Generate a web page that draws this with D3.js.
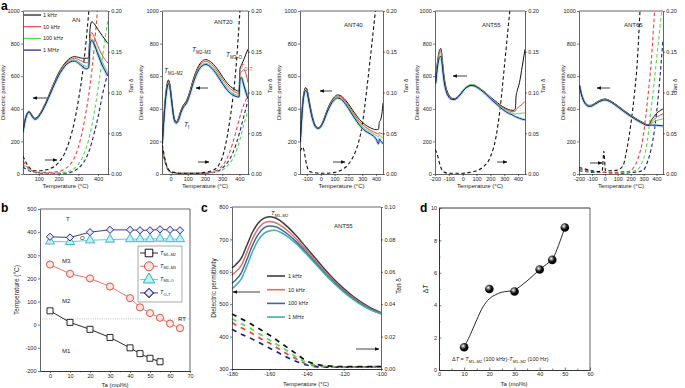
<!DOCTYPE html>
<html>
<head>
<meta charset="utf-8">
<script src="https://cdn.jsdelivr.net/npm/d3@7"></script>
<style>
body { margin: 0; background: #fff; }
svg { font-family: "Liberation Sans", Arial, sans-serif; }
</style>
</head>
<body>
<script>
// ---------- panel a : dielectric permittivity / tan delta ----------
const freqLabels = ['1 kHz', '10 kHz', '100 kHz', '1 MHz'];

const anEpsT = [20,30,40,50,60,70,80,90,100,120,140,160,180,200,220,240,260,280,300,320,340,352,360,368,380,400,420,450];
const anEps1k = [260,330,370,385,372,352,342,345,360,400,452,510,568,620,660,692,712,720,716,710,710,712,900,935,922,885,850,800];
const anEps10k = [258,328,368,382,370,350,340,343,357,397,448,506,563,614,654,685,703,710,703,690,682,688,845,868,840,780,730,680];
const anEps100k = [256,326,366,380,368,348,338,341,355,394,445,502,558,608,648,678,695,700,690,672,660,665,810,830,805,745,690,620];
const anEps1M = [254,324,364,378,366,346,336,339,353,392,442,498,553,603,642,672,688,693,680,660,645,652,800,820,795,730,670,600];
const anTanT = [20,40,60,80,100,150,200,230,260,280,300,320,340,360,380,400,420,450];
const anTan1k = [0.022,0.012,0.006,0.004,0.004,0.006,0.014,0.025,0.045,0.064,0.09,0.122,0.165,0.22,0.28,0.34,0.4,0.5];
const anTan10k = [0.016,0.009,0.005,0.003,0.002,0.002,0.003,0.006,0.012,0.02,0.033,0.052,0.078,0.11,0.155,0.21,0.27,0.36];
const anTan100k = [0.012,0.007,0.004,0.002,0.001,0.001,0.001,0.002,0.004,0.007,0.012,0.02,0.032,0.05,0.075,0.105,0.14,0.19];
const anTan1M = [0.009,0.005,0.003,0.002,0.001,0.001,0.001,0.001,0.002,0.004,0.007,0.012,0.02,0.032,0.05,0.07,0.095,0.125];

const a20EpsT = [-48,-40,-30,-20,-12,-5,5,15,25,35,45,60,75,90,110,130,150,170,190,205,220,240,260,280,300,320,340,360,380,398,404,412,425,438,450];
const a20Eps1k = [190,330,470,555,577,555,470,380,330,322,340,390,425,445,500,575,635,675,698,702,697,682,660,632,600,570,545,527,514,508,650,668,700,735,765];
const a20Eps10k = [188,325,462,545,568,548,465,376,326,318,336,385,420,440,494,568,626,665,687,691,686,670,646,617,585,555,530,512,500,495,615,625,640,615,560];
const a20Eps100k = [186,320,455,537,560,540,460,372,322,315,332,380,415,435,488,560,617,655,676,680,675,658,633,603,570,540,515,498,487,482,590,595,560,515,480];
const a20Eps1M = [184,315,450,530,555,535,455,368,318,312,328,376,411,430,482,553,610,648,668,672,666,648,622,591,557,527,502,486,476,472,585,590,545,500,460];
const a20TanT = [-48,-40,-30,-20,-10,0,20,50,100,150,200,250,280,300,320,340,360,380,400,420,450];
const a20Tan1k = [0.036,0.026,0.016,0.009,0.005,0.003,0.002,0.001,0.001,0.001,0.002,0.005,0.011,0.02,0.036,0.06,0.09,0.13,0.19,0.26,0.35];
const a20Tan10k = [0.034,0.024,0.015,0.008,0.004,0.003,0.002,0.001,0.001,0.001,0.001,0.003,0.006,0.01,0.016,0.025,0.037,0.052,0.068,0.082,0.096];
const a20Tan100k = [0.032,0.023,0.014,0.008,0.004,0.002,0.001,0.001,0.001,0.001,0.001,0.002,0.003,0.005,0.008,0.012,0.018,0.027,0.04,0.056,0.078];
const a20Tan1M = [0.03,0.021,0.013,0.007,0.004,0.002,0.001,0.001,0.001,0.001,0.001,0.002,0.004,0.007,0.011,0.017,0.025,0.036,0.05,0.066,0.09];

const a40EpsT = [-148,-140,-130,-120,-110,-100,-90,-75,-60,-45,-30,-15,0,20,40,60,80,100,120,140,160,180,200,240,280,320,360,400,418,424,432,442,450];
const a40Eps1k = [200,320,440,505,530,522,480,410,350,308,288,285,295,330,378,420,452,474,485,482,470,452,430,380,335,303,283,272,275,320,330,370,435];
const a40Eps10k = [198,315,435,500,524,516,474,405,346,305,286,283,293,327,374,415,447,468,478,475,462,443,420,368,322,290,268,252,245,255,250,248,245];
const a40Eps100k = [196,310,430,495,518,510,468,400,342,302,284,281,291,324,370,410,441,462,472,468,455,435,411,358,311,278,258,238,228,240,232,226,220];
const a40Eps1M = [194,305,425,490,512,504,462,395,338,300,282,279,289,321,366,405,436,456,466,462,448,427,402,348,300,265,245,215,185,215,205,195,185];
const a40TanT = [-148,-140,-130,-120,-110,-100,-90,-80,-60,0,50,100,150,200,250,272,300,330,360,395,420,450];
const a40Tan1k = [0.028,0.031,0.033,0.028,0.018,0.01,0.005,0.003,0.002,0.001,0.001,0.002,0.005,0.012,0.027,0.038,0.06,0.1,0.145,0.2,0.24,0.29];

const a55EpsT = [-195,-188,-180,-172,-165,-158,-152,-145,-135,-120,-100,-80,-60,-40,-20,0,20,40,60,80,100,130,170,210,250,290,330,365,380,386,392,410,430,450];
const a55Eps1k = [570,640,700,745,765,770,745,680,600,530,485,466,462,470,488,510,528,540,546,545,538,522,495,465,438,413,396,390,398,480,505,560,660,765];
const a55Eps10k = [565,630,690,735,752,755,730,668,590,522,480,462,459,467,485,507,525,537,543,542,535,519,492,461,433,407,389,382,385,395,402,415,428,445];
const a55Eps100k = [560,622,680,722,740,742,718,658,582,516,476,460,458,468,487,510,530,543,549,548,540,522,493,460,430,402,382,372,368,370,372,372,373,375];
const a55Eps1M = [555,612,668,705,720,722,700,645,572,510,472,458,457,466,484,506,525,537,543,541,533,516,487,454,424,395,373,360,352,350,348,342,336,332];
const a55TanT = [-198,-190,-180,-170,-160,-150,-130,-100,-50,0,50,100,150,200,240,270,300,320,340,360,400,450];
const a55Tan1k = [0.03,0.027,0.022,0.015,0.009,0.005,0.002,0.001,0.001,0.001,0.002,0.004,0.009,0.021,0.045,0.08,0.13,0.165,0.2,0.24,0.32,0.42];

const a65EpsT = [-195,-185,-170,-155,-140,-125,-110,-95,-80,-60,-40,-20,0,20,50,100,150,200,250,300,330,345,360,380,400,425,450];
const a65Eps1k = [545,505,465,440,427,421,421,425,432,442,451,457,460,457,445,418,388,360,335,313,302,305,330,352,372,388,400];
const a65Eps10k = [543,503,463,438,425,419,419,423,430,440,449,455,458,455,443,416,386,358,333,311,300,302,318,335,348,360,370];
const a65Eps100k = [541,501,461,436,423,417,417,421,428,438,447,453,456,453,441,414,384,356,331,309,299,300,310,320,328,334,338];
const a65Eps1M = [539,499,459,434,421,415,415,419,426,436,445,451,454,451,439,412,382,354,329,307,298,299,300,300,299,297,295];
const a65TanT = [-200,-150,-100,-50,-20,-8,5,50,100,140,170,200,230,250,272,285,300,330,360,385,410,440,450];
const a65Tan1k = [0.008,0.006,0.004,0.003,0.004,0.028,0.004,0.004,0.005,0.01,0.03,0.06,0.1,0.135,0.2,0.24,0.28,0.36,0.44,0.5,0.56,0.62,0.64];
const a65Tan10k = [0.006,0.005,0.003,0.002,0.002,0.002,0.002,0.002,0.002,0.003,0.003,0.004,0.01,0.016,0.027,0.035,0.05,0.09,0.14,0.2,0.26,0.34,0.37];
const a65Tan100k = [0.005,0.004,0.003,0.002,0.002,0.002,0.002,0.001,0.001,0.002,0.002,0.003,0.004,0.005,0.009,0.013,0.019,0.042,0.082,0.118,0.155,0.2,0.215];
const a65Tan1M = [0.004,0.003,0.002,0.002,0.002,0.002,0.002,0.001,0.001,0.001,0.001,0.002,0.002,0.003,0.003,0.004,0.005,0.015,0.032,0.055,0.09,0.145,0.165];

// ---------- panel b : phase diagram ----------
const taM1M2 = [0,10,20,30,40,45,50,55];
const tM1M2 = [60,10,-20,-55,-100,-125,-145,-160];
const taAll = [0,10,20,30,40,45,50,55,60,65];
const tM2M3 = [260,220,200,165,115,75,50,30,5,-15];
const tM3O = [360,358,365,368,370,370,370,372,370,370];
const tOT = [380,377,400,410,410,408,408,412,410,408];
const roomT = 25;

// ---------- panel c : ANT55 near T_M1-M2 ----------
const cEpsT = [-180,-178,-175,-172,-169,-166,-163,-160,-157,-154,-150,-145,-140,-135,-130,-125,-120,-115,-110,-105,-100];
const cEps1k = [612,622,642,682,722,750,765,770,767,757,738,708,674,640,606,575,548,524,504,487,474];
const cEps10k = [590,600,620,660,702,732,750,755,752,743,726,698,666,633,600,570,543,520,500,484,472];
const cEps100k = [565,575,597,638,682,715,735,741,740,732,716,690,659,627,595,566,540,517,498,482,471];
const cEps1M = [548,558,578,618,662,697,718,726,728,722,708,684,654,623,592,563,537,515,496,481,470];
const cTanT = [-180,-175,-170,-165,-160,-155,-150,-145,-140,-135,-130,-120,-110,-100];
const cTan1k = [0.034,0.031,0.028,0.0245,0.021,0.017,0.013,0.009,0.005,0.003,0.002,0.0015,0.0015,0.0015];
const cTan100k = [0.031,0.028,0.025,0.0215,0.018,0.0145,0.011,0.007,0.004,0.0025,0.0018,0.0014,0.0014,0.0014];
const cTan10k = [0.0285,0.0255,0.0225,0.019,0.016,0.0125,0.009,0.006,0.003,0.002,0.0015,0.0012,0.0012,0.0012];
const cTan1M = [0.0245,0.0215,0.019,0.016,0.013,0.01,0.007,0.0045,0.0025,0.0015,0.0012,0.0012,0.0013,0.0015];

// ---------- panel d : delta T ----------
const dTa = [10,20,30,40,45,50];
const dDeltaT = [1.4,5.0,4.85,6.2,6.8,8.8];
const fitTa = [10,12.5,15,17.5,20,22.5,25,30,35,40,45,47.5,50];
const fitDT = [1.4,2.2,3.1,3.9,4.4,4.65,4.8,4.95,5.5,6.2,6.85,7.7,8.8];

// ======================================================
const ink = '#222';
const colA = ['#111111', '#e5473f', '#5ad65a', '#1b1f82'];
const colC = ['#3d3d3d', '#d9716c', '#4463a3', '#3db3a0'];
const fsTick = 5.5, fsTitle = 6.5;

const svg = d3.select('body').append('svg')
    .attr('width', 685)
    .attr('height', 388);

const defs = svg.append('defs');
defs.append('marker').attr('id', 'arr')
    .attr('viewBox', '0 0 10 10').attr('refX', 9).attr('refY', 5)
    .attr('markerUnits', 'userSpaceOnUse')
    .attr('markerWidth', 4.5).attr('markerHeight', 4.5)
    .attr('orient', 'auto')
    .append('path').attr('d', 'M0,1L10,5L0,9Z').attr('fill', '#111');
const ball = defs.append('radialGradient').attr('id', 'ball')
    .attr('cx', '38%').attr('cy', '35%').attr('r', '65%');
ball.append('stop').attr('offset', '0%').attr('stop-color', '#ffffff');
ball.append('stop').attr('offset', '22%').attr('stop-color', '#9a9a9a');
ball.append('stop').attr('offset', '55%').attr('stop-color', '#151515');
ball.append('stop').attr('offset', '100%').attr('stop-color', '#000');

function styleAxis(a, fs) {
    a.select('.domain').attr('stroke', ink).attr('stroke-width', 0.7);
    a.selectAll('.tick line').attr('stroke', ink).attr('stroke-width', 0.6);
    a.selectAll('.tick text').attr('font-size', fs || fsTick).attr('fill', ink)
        .attr('font-family', '"Liberation Sans", Arial, sans-serif');
    return a;
}
function addAxis(g, gen, tx, ty, fs) {
    return styleAxis(g.append('g').attr('transform', `translate(${tx},${ty})`).call(gen), fs);
}
function txt(g, x, y, s, opt) {
    opt = opt || {};
    return g.append('text').attr('x', x).attr('y', y).text(s)
        .attr('font-size', opt.fs || fsTitle).attr('fill', opt.fill || ink)
        .attr('text-anchor', opt.anchor || 'start')
        .attr('font-weight', opt.bold ? 'bold' : null);
}
function vtxt(g, x, y, s, fs) {
    return g.append('text').attr('transform', `translate(${x},${y}) rotate(-90)`)
        .attr('text-anchor', 'middle').attr('font-size', fs || fsTitle).attr('fill', ink).text(s);
}
// T with subscript
function tsub(g, x, y, sub, fs, fill) {
    const t = g.append('text').attr('x', x).attr('y', y).attr('font-size', fs).attr('fill', fill || ink);
    t.append('tspan').attr('font-style', 'italic').text('T');
    t.append('tspan').attr('font-size', fs * 0.68).attr('dy', fs * 0.25).text(sub);
    return t;
}
function arrow(g, x1, y1, x2, y2) {
    g.append('line').attr('x1', x1).attr('y1', y1).attr('x2', x2).attr('y2', y2)
        .attr('stroke', '#111').attr('stroke-width', 0.8).attr('marker-end', 'url(#arr)');
}
function frameLine(g, x1, y1, x2, y2, w) {
    g.append('line').attr('x1', x1).attr('y1', y1).attr('x2', x2).attr('y2', y2)
        .attr('stroke', ink).attr('stroke-width', w || 0.7);
}

// ---------------- panel a ----------------
const aTop = 11, aBottom = 174;
const yEa = d3.scaleLinear().domain([0, 1000]).range([aBottom, aTop]);
const yTa = d3.scaleLinear().domain([0, 0.2]).range([aBottom, aTop]);

const aPanels = [
    { name: 'AN', x0: 23, x1: 108, dom: [20, 450], ticks: [100, 200, 300, 400], lt: 5, rt: 133,
      eT: anEpsT, eps: [anEps1k, anEps10k, anEps100k, anEps1M],
      tT: anTanT, tan: [anTan1k, anTan10k, anTan100k, anTan1M] },
    { name: 'ANT20', x0: 162, x1: 248, dom: [-50, 450], ticks: [0, 100, 200, 300, 400], lt: 143, rt: 272,
      eT: a20EpsT, eps: [a20Eps1k, a20Eps10k, a20Eps100k, a20Eps1M],
      tT: a20TanT, tan: [a20Tan1k, a20Tan10k, a20Tan100k, a20Tan1M] },
    { name: 'ANT40', x0: 300, x1: 383, dom: [-150, 450], ticks: [-100, 0, 100, 200, 300, 400], lt: 281, rt: 408,
      eT: a40EpsT, eps: [a40Eps1k, a40Eps10k, a40Eps100k, a40Eps1M],
      tT: a40TanT, tan: [a40Tan1k] },
    { name: 'ANT55', x0: 435, x1: 525, dom: [-200, 450], ticks: [-200, -100, 0, 100, 200, 300, 400], lt: 419, rt: 545,
      eT: a55EpsT, eps: [a55Eps1k, a55Eps10k, a55Eps100k, a55Eps1M],
      tT: a55TanT, tan: [a55Tan1k] },
    { name: 'ANT65', x0: 579, x1: 663, dom: [-200, 450], ticks: [-200, -100, 0, 100, 200, 300, 400], lt: 565, rt: 677,
      eT: a65EpsT, eps: [a65Eps1k, a65Eps10k, a65Eps100k, a65Eps1M],
      tT: a65TanT, tan: [a65Tan1k, a65Tan10k, a65Tan100k, a65Tan1M] }
];

aPanels.forEach((p, i) => {
    const g = svg.append('g');
    const x = d3.scaleLinear().domain(p.dom).range([p.x0, p.x1]);
    const cid = 'clipA' + i;
    defs.append('clipPath').attr('id', cid).append('rect')
        .attr('x', p.x0).attr('y', aTop).attr('width', p.x1 - p.x0).attr('height', aBottom - aTop);
    const plot = g.append('g').attr('clip-path', `url(#${cid})`);

    // tan delta, dashed
    for (let k = p.tan.length - 1; k >= 0; k--) {
        const line = d3.line().x((d, j) => x(p.tT[j])).y(d => yTa(d)).curve(d3.curveMonotoneX);
        plot.append('path').datum(p.tan[k]).attr('d', line)
            .attr('fill', 'none').attr('stroke', colA[k]).attr('stroke-width', 1.1)
            .attr('stroke-dasharray', '3.5,2.5');
    }
    // permittivity, solid
    const eLine = d3.line().x((d, j) => x(p.eT[j])).y(d => yEa(d)).curve(d3.curveMonotoneX);
    plot.append('path').datum(p.eps[3]).attr('d', eLine)
        .attr('fill', 'none').attr('stroke', '#9fd6f2').attr('stroke-width', 3).attr('opacity', 0.7);
    p.eps.forEach((s, k) => {
        plot.append('path').datum(s).attr('d', eLine)
            .attr('fill', 'none').attr('stroke', colA[k]).attr('stroke-width', 1);
    });

    addAxis(g, d3.axisBottom(x).tickValues(p.ticks).tickSize(2).tickSizeOuter(0).tickPadding(1.2).tickFormat(d => String(d)), 0, aBottom);
    addAxis(g, d3.axisLeft(yEa).tickValues([0, 200, 400, 600, 800, 1000]).tickSize(2).tickSizeOuter(0).tickPadding(1.2).tickFormat(d => String(d)), p.x0, 0);
    addAxis(g, d3.axisRight(yTa).tickValues([0, 0.05, 0.1, 0.15, 0.2]).tickSize(2).tickSizeOuter(0).tickPadding(1.2).tickFormat(d3.format('.2f')), p.x1, 0);
    frameLine(g, p.x0, aTop, p.x1, aTop);

    txt(g, (p.x0 + p.x1) / 2, 188, 'Temperature (\u00B0C)', { anchor: 'middle', fs: 6 });
    vtxt(g, p.lt, (aTop + aBottom) / 2, 'Dielectric permittivity', 6);
    vtxt(g, p.rt, 86, 'Tan \u03B4', 6);
});

// panel a annotations
{
    const g = svg.append('g');
    txt(g, 1, 10, 'a', { fs: 12, bold: true, fill: '#000' });
    // legend in AN
    freqLabels.forEach((f, k) => {
        const yy = 15 + k * 11.7;
        g.append('line').attr('x1', 24).attr('x2', 41).attr('y1', yy).attr('y2', yy)
            .attr('stroke', colA[k]).attr('stroke-width', 1.2);
        txt(g, 43, yy + 2, f, { fs: 5.5 });
    });
    txt(g, 72, 22, 'AN', { fs: 6 });
    txt(g, 214, 24, 'ANT20', { fs: 6 });
    txt(g, 344, 27, 'ANT40', { fs: 6 });
    txt(g, 482, 27, 'ANT55', { fs: 6 });
    txt(g, 624, 27, 'ANT65', { fs: 6 });
    tsub(g, 164, 73, 'M1\u2013M2', 6.5);
    tsub(g, 192, 52, 'M2\u2013M3', 6.5);
    tsub(g, 226, 57, 'M3\u2013O', 6.5);
    tsub(g, 240, 69, 'O\u2013T', 6.5, '#c84040');
    tsub(g, 184, 127, 'f', 6.5);
    arrow(g, 47, 98, 33, 98);  arrow(g, 45, 160, 57, 160);
    arrow(g, 208, 88, 196, 88); arrow(g, 198, 162, 209, 162);
    arrow(g, 332, 91, 320, 91); arrow(g, 333, 162, 345, 162);
    arrow(g, 467, 76, 453, 76); arrow(g, 497, 162, 507, 162);
    arrow(g, 610, 88, 597, 88); arrow(g, 590, 163, 602, 163);
}

// ---------------- panel b ----------------
{
    const g = svg.append('g');
    const x = d3.scaleLinear().domain([-5, 70]).range([40, 190]);
    const y = d3.scaleLinear().domain([-200, 500]).range([371, 209]);

    g.append('line').attr('x1', x(-5)).attr('x2', x(70)).attr('y1', y(roomT)).attr('y2', y(roomT))
        .attr('stroke', '#999').attr('stroke-width', 0.6).attr('stroke-dasharray', '1,1.2');

    const series = [
        { ta: taM1M2, v: tM1M2, line: '#111', stroke: '#111', fill: '#fff', sym: d3.symbolSquare, size: 36, rot: 0, lab: 'M1\u2013M2' },
        { ta: taAll, v: tM2M3, line: '#e0675e', stroke: '#d9443c', fill: '#fbe3df', sym: d3.symbolCircle, size: 40, rot: 0, lab: 'M2\u2013M3' },
        { ta: taAll, v: tM3O, line: '#4cc6cf', stroke: '#2fb2bf', fill: '#c4f0f3', sym: d3.symbolTriangle, size: 36, rot: 0, lab: 'M3\u2013O' },
        { ta: taAll, v: tOT, line: '#23297e', stroke: '#1d2477', fill: '#e6e8f8', sym: d3.symbolSquare, size: 26, rot: 45, lab: 'O\u2013T' }
    ];
    series.forEach(s => {
        const line = d3.line().x((d, j) => x(s.ta[j])).y(d => y(d));
        g.append('path').datum(s.v).attr('d', line).attr('fill', 'none')
            .attr('stroke', s.line).attr('stroke-width', 0.9);
        g.selectAll(null).data(s.v).enter().append('path')
            .attr('d', d3.symbol().type(s.sym).size(s.size))
            .attr('transform', (d, j) => `translate(${x(s.ta[j])},${y(d)}) rotate(${s.rot})`)
            .attr('fill', s.fill).attr('stroke', s.stroke).attr('stroke-width', 0.9);
    });

    addAxis(g, d3.axisBottom(x).tickValues(d3.range(0, 71, 10)).tickSize(2).tickSizeOuter(0).tickPadding(1.5), 0, 371);
    addAxis(g, d3.axisBottom(x).tickValues(d3.range(5, 70, 10)).tickSize(1.2).tickSizeOuter(0).tickFormat(''), 0, 371);
    addAxis(g, d3.axisLeft(y).tickValues(d3.range(-200, 501, 100)).tickSize(2).tickSizeOuter(0).tickPadding(1.5).tickFormat(d => String(d)), 40, 0);
    frameLine(g, 40, 209, 190, 209);
    frameLine(g, 190, 209, 190, 371);

    // legend
    g.append('rect').attr('x', 138).attr('y', 246).attr('width', 44).attr('height', 56)
        .attr('fill', '#fff').attr('stroke', '#555').attr('stroke-width', 0.5);
    series.forEach((s, k) => {
        const yy = 253 + k * 13.3;
        g.append('line').attr('x1', 140).attr('x2', 158).attr('y1', yy).attr('y2', yy)
            .attr('stroke', s.line).attr('stroke-width', 0.9);
        g.append('path').attr('d', d3.symbol().type(s.sym).size(s.size * 1.6))
            .attr('transform', `translate(149,${yy}) rotate(${s.rot})`)
            .attr('fill', s.fill).attr('stroke', s.stroke).attr('stroke-width', 1);
        tsub(g, 160, yy + 1.5, s.lab, 5.5);
    });

    txt(g, 66, 221, 'T', { fs: 6 });
    txt(g, 62, 263, 'M3', { fs: 6 });
    txt(g, 62, 303, 'M2', { fs: 6 });
    txt(g, 62, 353, 'M1', { fs: 6 });
    txt(g, 178, 321, 'RT', { fs: 6 });
    txt(g, 80, 240, 'O', { fs: 6 });
    txt(g, 115, 387, 'Ta (mol%)', { anchor: 'middle', fs: 6 });
    vtxt(g, 19, 290, 'Temperature (\u00B0C)', 6.5);
    txt(g, 1, 212, 'b', { fs: 12, bold: true, fill: '#000' });
}

// ---------------- panel c ----------------
{
    const g = svg.append('g');
    const x = d3.scaleLinear().domain([-180, -100]).range([232, 381]);
    const yE = d3.scaleLinear().domain([300, 800]).range([369, 207]);
    const yT = d3.scaleLinear().domain([0, 0.1]).range([369, 207]);

    const tanSeries = [cTan1M, cTan10k, cTan100k, cTan1k];
    const tanCols = [colA[3], colA[1], colA[2], colA[0]];
    tanSeries.forEach((s, k) => {
        const line = d3.line().x((d, j) => x(cTanT[j])).y(d => yT(d)).curve(d3.curveMonotoneX);
        g.append('path').datum(s).attr('d', line).attr('fill', 'none')
            .attr('stroke', tanCols[k]).attr('stroke-width', 1.7).attr('stroke-dasharray', '5,5');
    });
    const epsSeries = [cEps1k, cEps10k, cEps100k, cEps1M];
    const eLine = d3.line().x((d, j) => x(cEpsT[j])).y(d => yE(d)).curve(d3.curveMonotoneX);
    epsSeries.forEach((s, k) => {
        g.append('path').datum(s).attr('d', eLine).attr('fill', 'none')
            .attr('stroke', colC[k]).attr('stroke-width', 1.5);
    });

    addAxis(g, d3.axisBottom(x).tickValues(d3.range(-180, -99, 20)).tickSize(2).tickSizeOuter(0).tickPadding(1.5).tickFormat(d => String(d)), 0, 369);
    addAxis(g, d3.axisBottom(x).tickValues(d3.range(-170, -100, 20)).tickSize(1.2).tickSizeOuter(0).tickFormat(''), 0, 369);
    addAxis(g, d3.axisLeft(yE).tickValues(d3.range(300, 801, 100)).tickSize(2).tickSizeOuter(0).tickPadding(1.5), 232, 0);
    addAxis(g, d3.axisRight(yT).tickValues(d3.range(0, 0.101, 0.02)).tickSize(2).tickSizeOuter(0).tickPadding(1.5).tickFormat(d3.format('.2f')), 381, 0);
    frameLine(g, 232, 207, 381, 207);

    freqLabels.forEach((f, k) => {
        const yy = 276 + k * 13.7;
        g.append('line').attr('x1', 267).attr('x2', 285).attr('y1', yy).attr('y2', yy)
            .attr('stroke', colC[k]).attr('stroke-width', 1.6);
        txt(g, 288, yy + 2, f, { fs: 5.5 });
    });
    tsub(g, 271, 215, 'M1\u2013M2', 6);
    txt(g, 334, 228, 'ANT55', { fs: 6 });
    arrow(g, 260, 292, 233, 292);
    arrow(g, 356, 349, 379, 349);
    txt(g, 306, 386, 'Temperature (\u00B0C)', { anchor: 'middle', fs: 6 });
    vtxt(g, 216, 288, 'Dielectric permittivity', 6.5);
    vtxt(g, 401, 286, 'Tan \u03B4', 6.5);
    txt(g, 201, 212, 'c', { fs: 12, bold: true, fill: '#000' });
}

// ---------------- panel d ----------------
{
    const g = svg.append('g');
    const x = d3.scaleLinear().domain([0, 60]).range([439, 590]);
    const y = d3.scaleLinear().domain([0, 10]).range([370, 208]);

    addAxis(g, d3.axisBottom(x).tickValues(d3.range(0, 61, 10)).tickSize(-2.5).tickSizeOuter(0).tickPadding(2), 0, 370);
    addAxis(g, d3.axisBottom(x).tickValues(d3.range(5, 60, 10)).tickSize(-1.5).tickSizeOuter(0).tickFormat(''), 0, 370);
    addAxis(g, d3.axisLeft(y).tickValues(d3.range(0, 11, 2)).tickSize(-2.5).tickSizeOuter(0).tickPadding(2), 439, 0);
    addAxis(g, d3.axisLeft(y).tickValues(d3.range(1, 10, 2)).tickSize(-1.5).tickSizeOuter(0).tickFormat(''), 439, 0);
    frameLine(g, 439, 208, 590, 208, 0.9);
    frameLine(g, 590, 208, 590, 370, 0.7);

    const fit = d3.line().x((d, j) => x(fitTa[j])).y(d => y(d)).curve(d3.curveCatmullRom);
    g.append('path').datum(fitDT).attr('d', fit).attr('fill', 'none')
        .attr('stroke', '#111').attr('stroke-width', 0.9);
    g.selectAll(null).data(dDeltaT).enter().append('circle')
        .attr('cx', (d, j) => x(dTa[j])).attr('cy', d => y(d)).attr('r', 4.3)
        .attr('fill', 'url(#ball)');

    const t = g.append('text').attr('x', 452).attr('y', 361).attr('font-size', 5.5).attr('fill', ink);
    t.append('tspan').text('\u0394');
    t.append('tspan').attr('font-style', 'italic').text('T');
    t.append('tspan').text(' = ');
    t.append('tspan').attr('font-style', 'italic').text('T');
    t.append('tspan').attr('font-size', 4).attr('dy', 1.5).text('M1\u2013M2');
    t.append('tspan').attr('dy', -1.5).text(' (100 kHz)-');
    t.append('tspan').attr('font-style', 'italic').text('T');
    t.append('tspan').attr('font-size', 4).attr('dy', 1.5).text('M1\u2013M2');
    t.append('tspan').attr('dy', -1.5).text(' (100 Hz)');

    const yl = g.append('text').attr('transform', 'translate(428,289) rotate(-90)')
        .attr('text-anchor', 'middle').attr('font-size', 6.5).attr('fill', ink);
    yl.append('tspan').text('\u0394');
    yl.append('tspan').attr('font-style', 'italic').text('T');
    txt(g, 514, 386, 'Ta (mol%)', { anchor: 'middle', fs: 6 });
    txt(g, 420, 212, 'd', { fs: 12, bold: true, fill: '#000' });
}
</script>
</body>
</html>
